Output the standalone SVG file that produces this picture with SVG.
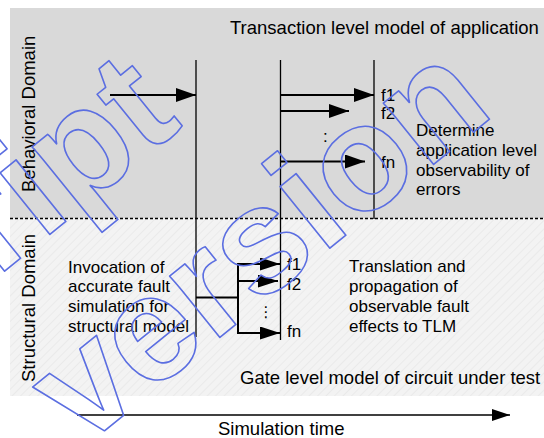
<svg xmlns="http://www.w3.org/2000/svg" width="544" height="438" viewBox="0 0 544 438">
<defs>
<style>
.t{font-family:"Liberation Sans",Arial,sans-serif;fill:#000}
.big{font-size:18.5px}
.mid{font-size:17px}
.ln{stroke:#000;stroke-width:1.3;fill:none}
.ar{stroke:#000;stroke-width:2;fill:none}
.wm{font-family:"Liberation Sans",Arial,sans-serif;font-weight:bold;font-size:150px;fill:none;stroke:#5b6ee1;stroke-width:1.6;stroke-linejoin:round}
</style>
<pattern id="hatch" width="6" height="6" patternUnits="userSpaceOnUse" patternTransform="rotate(45)">
<rect width="6" height="6" fill="#f3f3f3"/>
<line x1="0" y1="0" x2="0" y2="6" stroke="#eaeaea" stroke-width="2"/>
</pattern>
<marker id="ah" markerUnits="userSpaceOnUse" markerWidth="20" markerHeight="14" refX="20" refY="7" orient="auto">
<path d="M0,0 L20,7 L0,14 Z" fill="#000"/>
</marker>
<marker id="ahs" markerUnits="userSpaceOnUse" markerWidth="20" markerHeight="13" refX="20" refY="6.5" orient="auto">
<path d="M0,0 L20,6.5 L0,13 Z" fill="#000"/>
</marker>
<marker id="aht" markerUnits="userSpaceOnUse" markerWidth="18" markerHeight="12" refX="18" refY="6" orient="auto">
<path d="M0,0 L18,6 L0,12 Z" fill="#000"/>
</marker>
</defs>

<g id="behavioral-domain">
<rect x="10" y="8" width="534" height="210" fill="#d9d9d9"/>
<text class="t big" x="230" y="34">Transaction level model of application</text>
<text class="t big" transform="translate(35,192) rotate(-90)">Behavioral Domain</text>
<text class="t mid" x="416" y="136">Determine</text>
<text class="t mid" x="416" y="156">application level</text>
<text class="t mid" x="416" y="176">observability of</text>
<text class="t mid" x="416" y="195">errors</text>
</g>

<g id="structural-domain">
<rect x="10" y="218" width="534" height="178" fill="url(#hatch)"/>
<text class="t big" x="240" y="384">Gate level model of circuit under test</text>
<text class="t big" transform="translate(35,382) rotate(-90)">Structural Domain</text>
<text class="t mid" x="68" y="273">Invocation of</text>
<text class="t mid" x="68" y="292">accurate fault</text>
<text class="t mid" x="68" y="312">simulation for</text>
<text class="t mid" x="68" y="332">structural model</text>
<text class="t mid" x="349" y="272">Translation and</text>
<text class="t mid" x="349" y="292">propagation of</text>
<text class="t mid" x="349" y="312">observable fault</text>
<text class="t mid" x="349" y="332">effects to TLM</text>
</g>

<g id="separator">
<line x1="10" y1="218.5" x2="544" y2="218.5" stroke="#000" stroke-width="1.5" stroke-dasharray="3,2"/>
</g>

<g id="time-axis">
<text class="t big" x="218" y="435">Simulation time</text>
</g>

<g id="connectors">
<line class="ln" x1="196" y1="60" x2="196" y2="337"/>
<line class="ln" x1="280.5" y1="60" x2="280.5" y2="340"/>
<line class="ln" x1="374" y1="60" x2="374" y2="219"/>
<line class="ar" x1="110" y1="95" x2="196" y2="95" marker-end="url(#ah)"/>
<line class="ar" x1="281" y1="95" x2="374" y2="95" marker-end="url(#ah)"/>
<line class="ar" x1="281" y1="111" x2="349" y2="111" marker-end="url(#ah)"/>
<line class="ar" x1="281" y1="161.5" x2="365" y2="161.5" marker-end="url(#ah)"/>
<line class="ar" x1="196" y1="297.5" x2="238" y2="297.5"/>
<line class="ar" x1="238" y1="263" x2="238" y2="334"/>
<line class="ar" x1="237" y1="264" x2="280" y2="264" marker-end="url(#ahs)"/>
<line class="ar" x1="237" y1="281" x2="278" y2="281" marker-end="url(#ahs)"/>
<line class="ar" x1="237" y1="333" x2="280" y2="333" marker-end="url(#ahs)"/>
<line x1="77" y1="415" x2="510" y2="415" stroke="#000" stroke-width="1.5" marker-end="url(#aht)"/>
</g>

<g id="labels">
<text class="t mid" x="381" y="101">f1</text>
<text class="t mid" x="381" y="119">f2</text>
<text class="t mid" x="323" y="142">:</text>
<text class="t mid" x="381" y="168">fn</text>
<text class="t mid" x="287" y="270">f1</text>
<text class="t mid" x="287" y="290">f2</text>
<text class="t" x="266" y="317" font-size="15" text-anchor="middle" style="font-family:'DejaVu Sans',sans-serif">⋮</text>
<text class="t mid" x="287" y="337">fn</text>
</g>

<g id="watermark" transform="translate(82,449) rotate(-39)">
<text class="wm" x="0" y="0">version</text>
<text class="wm" x="283" y="-187" text-anchor="end">script</text>
</g>
</svg>
